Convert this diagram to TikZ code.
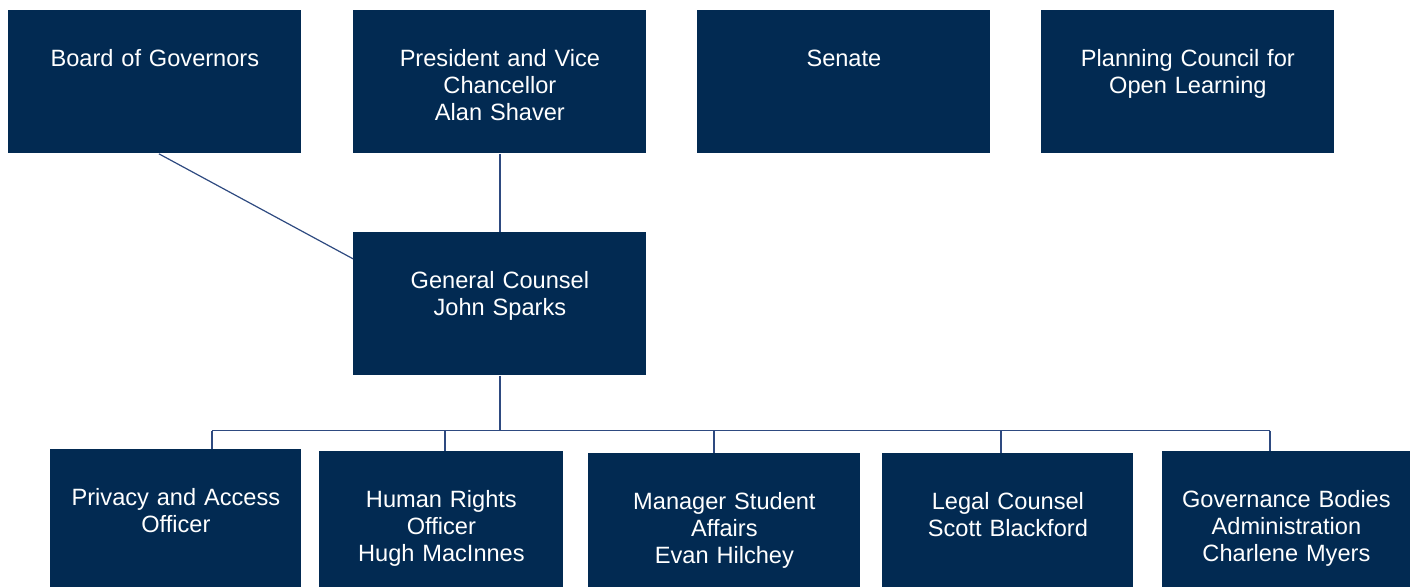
\documentclass[tikz,border=0pt]{standalone}
\usepackage{fontspec}
\setmainfont{Liberation Sans}
\usetikzlibrary{positioning}
\definecolor{navy}{HTML}{022A52}
\definecolor{linkblue}{HTML}{2E4A80}
\tikzset{
  orgbox/.style={fill=navy, text=white, anchor=north west, align=center,
    text width=#1*0.5pt, inner xsep=0pt, inner ysep=0pt,
    text height=28pt, text depth=43.5pt,
    font=\fontsize{11.8}{13.4}\selectfont},
  link/.style={draw=linkblue, line width=0.6pt}
}
\begin{document}
\begin{tikzpicture}[x=0.5pt, y=-0.5pt]
  \useasboundingbox (0,0) rectangle (1414,586);
  \node[orgbox=293] (board) at (8,10) {Board of Governors};
  \node[orgbox=293] (president) at (353,10) {President and Vice\\Chancellor\\Alan Shaver};
  \node[orgbox=293] (senate) at (697,10) {Senate};
  \node[orgbox=293] (planning) at (1041,10) {Planning Council for\\Open Learning};
  \node[orgbox=293, below=39pt of president.south west, anchor=north west] (counsel) {General Counsel\\John Sparks};
  \node[orgbox=251] (privacy) at (50,449) {Privacy and Access\\Officer};
  \node[orgbox=244] (rights) at (319,451) {Human Rights\\Officer\\Hugh MacInnes};
  \node[orgbox=272] (student) at (588,453) {Manager Student\\Affairs\\Evan Hilchey};
  \node[orgbox=251] (legal) at (882,453) {Legal Counsel\\Scott Blackford};
  \node[orgbox=248] (governance) at (1162,451) {Governance Bodies\\Administration\\Charlene Myers};
  \draw[link] ([xshift=2pt]board.south) -- (counsel.163);
  \draw[link] (president.south) -- (counsel.north);
  \draw[link] (counsel.south) -- ++(0,55) coordinate (bus);
  \draw[link] (212,0 |- bus) -- (1270,0 |- bus);
  \foreach \x/\n in {212/privacy, 445/rights, 714/student, 1001/legal, 1270/governance}
    \draw[link] (\x,0 |- bus) -- (\x,0 |- \n.north);
\end{tikzpicture}
\end{document}
